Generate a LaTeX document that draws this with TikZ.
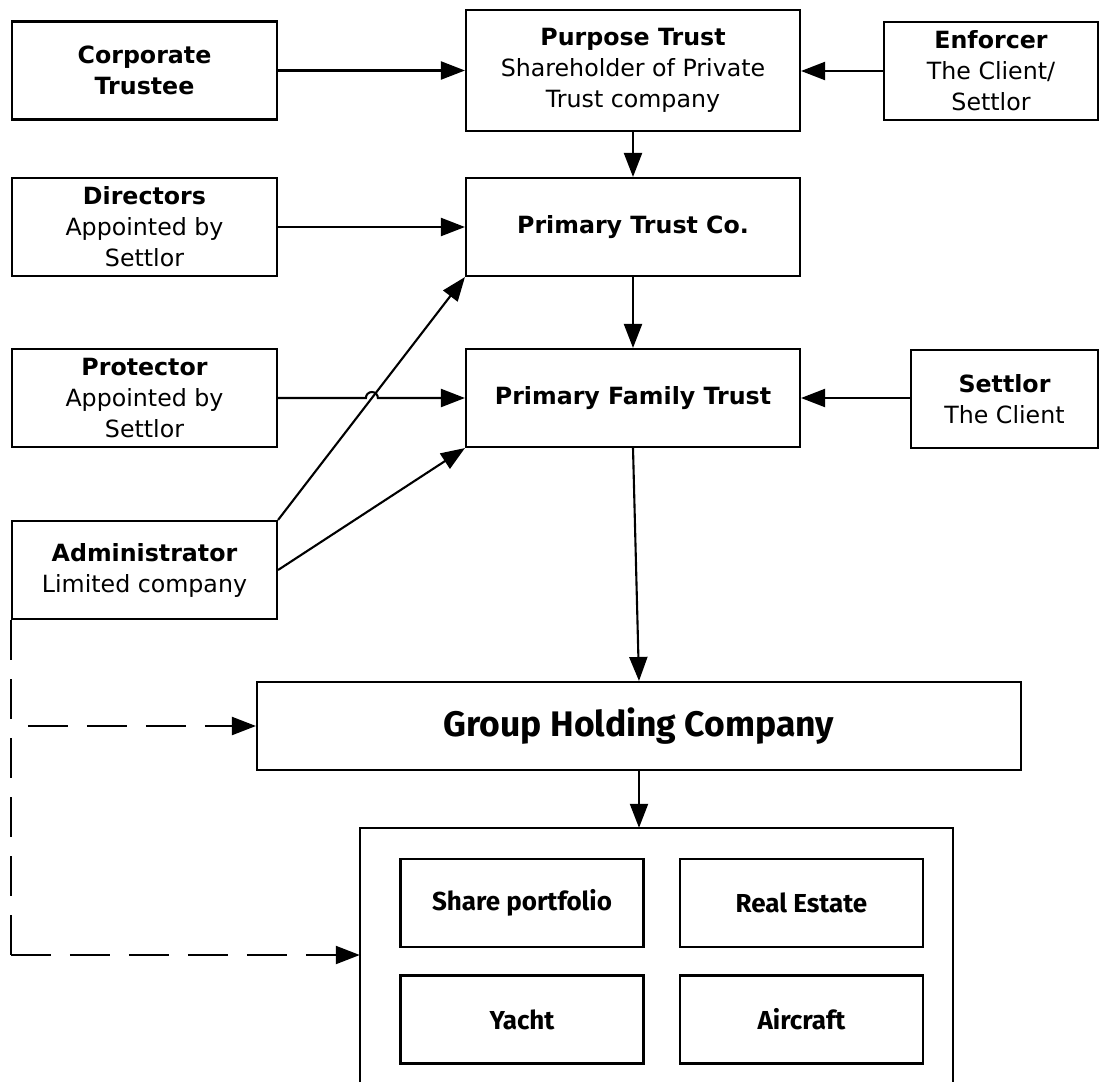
\documentclass[tikz,border=0pt]{standalone}
\usepackage{fontspec}
\setmainfont{DejaVu Sans}
\newfontfamily\condfont{Fira Sans}
\usetikzlibrary{arrows.meta,intersections}
\newcommand{\mainfs}{\fontsize{23.7}{31}\selectfont}
\tikzset{
  box/.style={draw, line width=2.1pt, inner sep=0pt, align=center, font=\mainfs, fill=white},
  sidebox/.style={box, minimum width=265, minimum height=98},
  midbox/.style={box, minimum width=334, minimum height=98},
  assetbox/.style={box, font=\condfont\bfseries\fontsize{26}{30}\selectfont, minimum width=243, minimum height=88},
  arr/.style={line width=2.1pt, -{Triangle[length=24pt,width=18pt]}},
  dasharr/.style={arr, dash pattern=on 40pt off 19pt},
  dashline/.style={line width=2.1pt, dash pattern=on 40pt off 19pt},
}
\begin{document}
\begin{tikzpicture}[x=1pt,y=-1pt]
\useasboundingbox (0,0) rectangle (1100,1082);
% top row
\node[sidebox] (corp) at (144.5,70.5) {\textbf{Corporate}\\\textbf{Trustee}};
\node[box, minimum width=334, minimum height=121] (purp) at (633,70.5) {\textbf{Purpose Trust}\\Shareholder of Private\\Trust company};
\node[box, minimum width=214, minimum height=98] (enf) at (991,71) {\textbf{Enforcer}\\The Client/\\Settlor};
% second row
\node[sidebox] (dir) at (144.5,227) {\textbf{Directors}\\Appointed by\\Settlor};
\node[midbox] (ptc) at (633,227) {\textbf{Primary Trust Co.}};
% third row
\node[sidebox] (prot) at (144.5,398) {\textbf{Protector}\\Appointed by\\Settlor};
\node[midbox] (pft) at (633,398) {\textbf{Primary Family Trust}};
\node[box, minimum width=187, minimum height=98] (sett) at (1004.5,399) {\textbf{Settlor}\\The Client};
% administrator
\node[sidebox] (admin) at (144.5,570) {\textbf{Administrator}\\Limited company};
% group holding
\node[box, font=\condfont\bfseries\fontsize{35.5}{42}\selectfont, minimum width=764, minimum height=88] (ghc) at (639,726) {Group Holding Company};
% assets container
\node[inner sep=0pt, minimum width=593, minimum height=254] (assets) at (656.5,955) {};
\draw[line width=2.1pt] (assets.south west) |- (assets.north) -| (assets.south east);
\node[assetbox] (share) at (522,903) {Share portfolio};
\node[assetbox] (real) at (801.5,903) {Real Estate};
\node[assetbox] (yacht) at (522,1019.5) {Yacht};
\node[assetbox] (air) at (801.5,1019.5) {Aircraft};
% connectors
\draw[arr] (corp.east) -- (corp.east -| purp.west);
\draw[arr] (enf.west) -- (enf.west -| purp.east);
\draw[arr] (purp.south) -- (ptc.north);
\draw[arr] (dir.east) -- (ptc.west);
\draw[arr] (ptc.south) -- (pft.north);
\draw[arr] (sett.west |- pft.east) -- (pft.east);
\draw[arr] (admin.north east) -- (ptc.south west);
\draw[arr] (admin.east) -- (pft.south west);
\path[name path=admline] (admin.north east) -- (ptc.south west);
\path[name path=protline] (prot.east) -- (pft.west);
\path[name intersections={of=admline and protline, by=hopc}];
\draw[arr] (prot.east) -- ([xshift=-6pt]hopc) arc[start angle=180, end angle=0, radius=6pt] -- (pft.west);
\draw[arr] (pft.south) -- (ghc.north);
\draw[arr] (ghc.south) -- (ghc.south |- assets.north);
% dashed administrator links
\coordinate (dcorner) at (admin.south west |- assets.west);
\coordinate (dbranch) at (admin.south west |- ghc.west);
\draw[dashline] (admin.south west) -- (dcorner);
\draw[dasharr] (dcorner) -- (assets.west);
\draw[dasharr, dash phase=42pt] (dbranch) -- (ghc.west);
\end{tikzpicture}
\end{document}
